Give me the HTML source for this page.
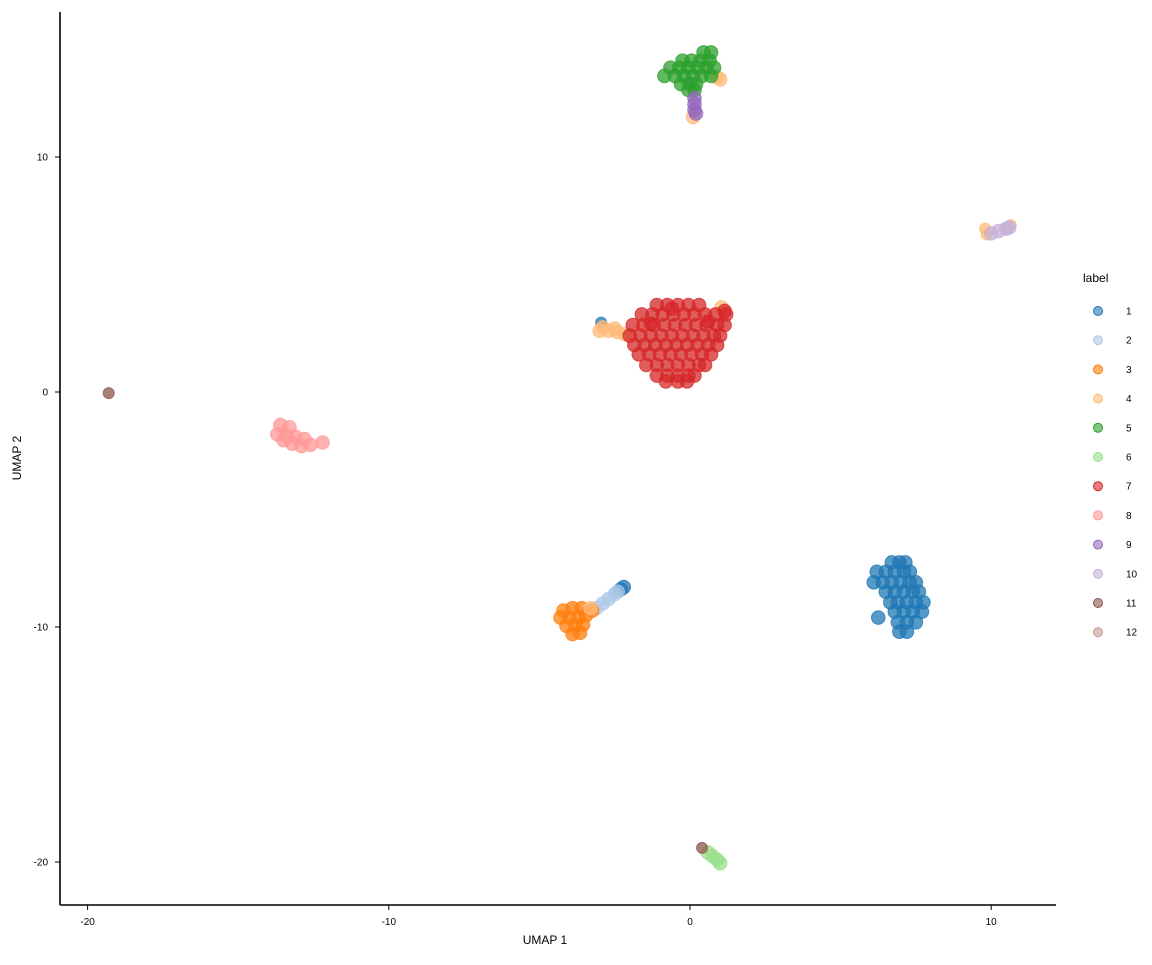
<!DOCTYPE html>
<html><head><meta charset="utf-8"><style>
body{margin:0;background:#fff;font-family:"Liberation Sans",sans-serif}
svg text{font-family:"Liberation Sans",sans-serif}
</style></head><body>
<svg id="chart" width="1152" height="960">
<g id="marks"></g>
<line x1="60" y1="12" x2="60" y2="905" stroke="#000" stroke-width="1.6"/>
<line x1="60" y1="905" x2="1056" y2="905" stroke="#000" stroke-width="1.6"/>
<g id="axes"></g>
<text x="545" y="944" font-size="12" text-anchor="middle">UMAP 1</text>
<text x="21" y="458" font-size="12" text-anchor="middle" transform="rotate(-90 21 458)">UMAP 2</text>
<text x="1083" y="282" font-size="12">label</text>
<g id="legend"></g>
</svg>
<script>
const labels = ["1","2","3","4","5","6","7","8","9","10","11","12"];
const colors = ["#1f77b4","#aec7e8","#ff7f0e","#ffbb78","#2ca02c","#98df8a","#d62728","#ff9896","#9467bd","#c5b0d5","#8c564b","#c49c94"];
const xTicks = [-20,-10,0,10];
const yTicks = [10,0,-10,-20];
// cluster points [x, y] in UMAP coordinates
const cluster1 = [[6.7,-7.25],[6.95,-7.25],[7.15,-7.25],[6.2,-7.65],[6.5,-7.65],[6.8,-7.65],[7.1,-7.65],[7.3,-7.65],[6.1,-8.1],[6.4,-8.1],[6.7,-8.1],[7.0,-8.1],[7.3,-8.1],[7.5,-8.1],[6.5,-8.5],[6.8,-8.5],[7.1,-8.5],[7.4,-8.5],[7.6,-8.5],[6.65,-8.95],[6.9,-8.95],[7.2,-8.95],[7.5,-8.95],[7.75,-8.95],[6.8,-9.35],[7.1,-9.35],[7.4,-9.35],[7.7,-9.35],[6.9,-9.8],[7.2,-9.8],[7.5,-9.8],[6.95,-10.2],[7.2,-10.2],[6.25,-9.6],[-2.3,-8.4],[-2.2,-8.3],[-2.95,2.95]];
const cluster2 = [[-3.1,-9.2],[-2.9,-9.0],[-2.7,-8.8],[-2.5,-8.6],[-2.4,-8.5]];
const cluster3 = [[-4.2,-9.3],[-3.9,-9.2],[-3.6,-9.2],[-4.3,-9.6],[-4.0,-9.6],[-3.7,-9.6],[-3.45,-9.5],[-4.1,-9.95],[-3.8,-9.95],[-3.55,-9.9],[-3.9,-10.3],[-3.65,-10.25],[-3.25,-9.3]];
const cluster4 = [[-3.0,2.6],[-2.7,2.6],[-2.4,2.55],[-2.15,2.45],[-2.9,2.75],[-2.5,2.7],[1.05,3.6],[0.9,13.4],[1.0,13.3],[0.1,11.7],[9.8,6.95],[9.85,6.7],[10.65,7.1],[-3.3,-9.2]];
const cluster5 = [[0.45,14.45],[0.7,14.45],[-0.25,14.1],[0.05,14.1],[0.35,14.1],[0.65,14.1],[-0.65,13.8],[-0.35,13.8],[-0.05,13.8],[0.25,13.8],[0.55,13.8],[0.8,13.8],[-0.85,13.45],[-0.5,13.45],[-0.2,13.45],[0.1,13.45],[0.4,13.45],[0.7,13.45],[-0.3,13.1],[0.0,13.1],[0.2,13.1],[-0.05,12.85],[0.15,12.85]];
const cluster6 = [[0.6,-19.6],[0.75,-19.75],[0.9,-19.9],[1.0,-20.05]];
const cluster7 = [[-1.1,3.7],[-0.75,3.7],[-0.4,3.7],[-0.05,3.7],[0.3,3.7],[1.15,3.45],[-1.6,3.3],[-1.25,3.3],[-0.9,3.3],[-0.55,3.3],[-0.2,3.3],[0.15,3.3],[0.5,3.3],[0.85,3.3],[1.2,3.3],[-1.9,2.85],[-1.55,2.85],[-1.2,2.85],[-0.85,2.85],[-0.5,2.85],[-0.15,2.85],[0.2,2.85],[0.55,2.85],[0.9,2.85],[1.15,2.85],[-2.0,2.4],[-1.65,2.4],[-1.3,2.4],[-0.95,2.4],[-0.6,2.4],[-0.25,2.4],[0.1,2.4],[0.45,2.4],[0.8,2.4],[1.0,2.4],[-1.85,2.0],[-1.5,2.0],[-1.15,2.0],[-0.8,2.0],[-0.45,2.0],[-0.1,2.0],[0.25,2.0],[0.6,2.0],[0.9,2.0],[-1.7,1.6],[-1.35,1.6],[-1.0,1.6],[-0.65,1.6],[-0.3,1.6],[0.05,1.6],[0.4,1.6],[0.7,1.6],[-1.45,1.15],[-1.1,1.15],[-0.75,1.15],[-0.4,1.15],[-0.05,1.15],[0.3,1.15],[0.5,1.15],[-1.1,0.7],[-0.75,0.7],[-0.4,0.7],[-0.05,0.7],[0.15,0.7],[-0.8,0.45],[-0.4,0.45],[-0.1,0.45],[-1.3,2.9],[-0.6,3.55],[0.6,3.0]];
const cluster8 = [[-13.6,-1.4],[-13.3,-1.5],[-13.7,-1.8],[-13.4,-1.85],[-13.1,-1.9],[-12.8,-2.0],[-13.2,-2.2],[-12.9,-2.3],[-12.6,-2.25],[-12.2,-2.15],[-13.5,-2.05]];
const cluster9 = [[0.15,12.5],[0.15,12.25],[0.15,12.0],[0.2,11.85]];
const cluster10 = [[10.0,6.75],[10.25,6.85],[10.5,6.95],[10.6,7.0]];
const cluster11 = [[-19.3,-0.05],[0.4,-19.4]];
const cluster12 = [];
const clusters = [cluster1,cluster2,cluster3,cluster4,cluster5,cluster6,cluster7,cluster8,cluster9,cluster10,cluster11,cluster12];

const xS = v => 690 + v*30.12;
const yS = v => 392 - v*23.5;
const NS = "http://www.w3.org/2000/svg";
const marks = document.getElementById("marks");
clusters.forEach((pts, ci) => {
  pts.forEach(p => {
    const c = document.createElementNS(NS, "circle");
    const solo = (ci === 10) || (ci === 0 && p[1] > 0) || (ci === 3 && Math.abs(p[0]) > 9);
    c.setAttribute("cx", xS(p[0])); c.setAttribute("cy", yS(p[1])); c.setAttribute("r", solo ? 5.5 : 6.8);
    c.setAttribute("fill", colors[ci]); c.setAttribute("fill-opacity", 0.75);
    c.setAttribute("stroke", colors[ci]); c.setAttribute("stroke-opacity", 0.75); c.setAttribute("stroke-width", 1);
    
    
    marks.appendChild(c);
  });
});
const axes = document.getElementById("axes");
xTicks.forEach(t => {
  const l = document.createElementNS(NS, "line");
  l.setAttribute("x1", xS(t)); l.setAttribute("x2", xS(t)); l.setAttribute("y1", 905); l.setAttribute("y2", 910); l.setAttribute("stroke", "#000");
  
  
  axes.appendChild(l);
  const tx = document.createElementNS(NS, "text");
  tx.setAttribute("x", xS(t)); tx.setAttribute("y", 925); tx.setAttribute("font-size", 10); tx.setAttribute("text-anchor", "middle");
  tx.textContent = t;
  
  
  axes.appendChild(tx);
});
yTicks.forEach(t => {
  const l = document.createElementNS(NS, "line");
  l.setAttribute("x1", 55); l.setAttribute("x2", 60); l.setAttribute("y1", yS(t)); l.setAttribute("y2", yS(t)); l.setAttribute("stroke", "#000");
  
  
  axes.appendChild(l);
  const tx = document.createElementNS(NS, "text");
  tx.setAttribute("x", 48); tx.setAttribute("y", yS(t) + 3.5); tx.setAttribute("font-size", 10); tx.setAttribute("text-anchor", "end");
  tx.textContent = t;
  
  
  axes.appendChild(tx);
});
const legend = document.getElementById("legend");
labels.forEach((lab, i) => {
  const y = 311 + i*29.2;
  const c = document.createElementNS(NS, "circle");
  c.setAttribute("cx", 1098); c.setAttribute("cy", y); c.setAttribute("r", 4.5);
  c.setAttribute("fill", colors[i]); c.setAttribute("fill-opacity", 0.6);
  c.setAttribute("stroke", colors[i]); c.setAttribute("stroke-width", 1);
  
  
  legend.appendChild(c);
  const tx = document.createElementNS(NS, "text");
  tx.setAttribute("x", 1126); tx.setAttribute("y", y + 3.5); tx.setAttribute("font-size", 10);
  tx.textContent = lab;
  
  
  legend.appendChild(tx);
});
</script>
</body></html>
